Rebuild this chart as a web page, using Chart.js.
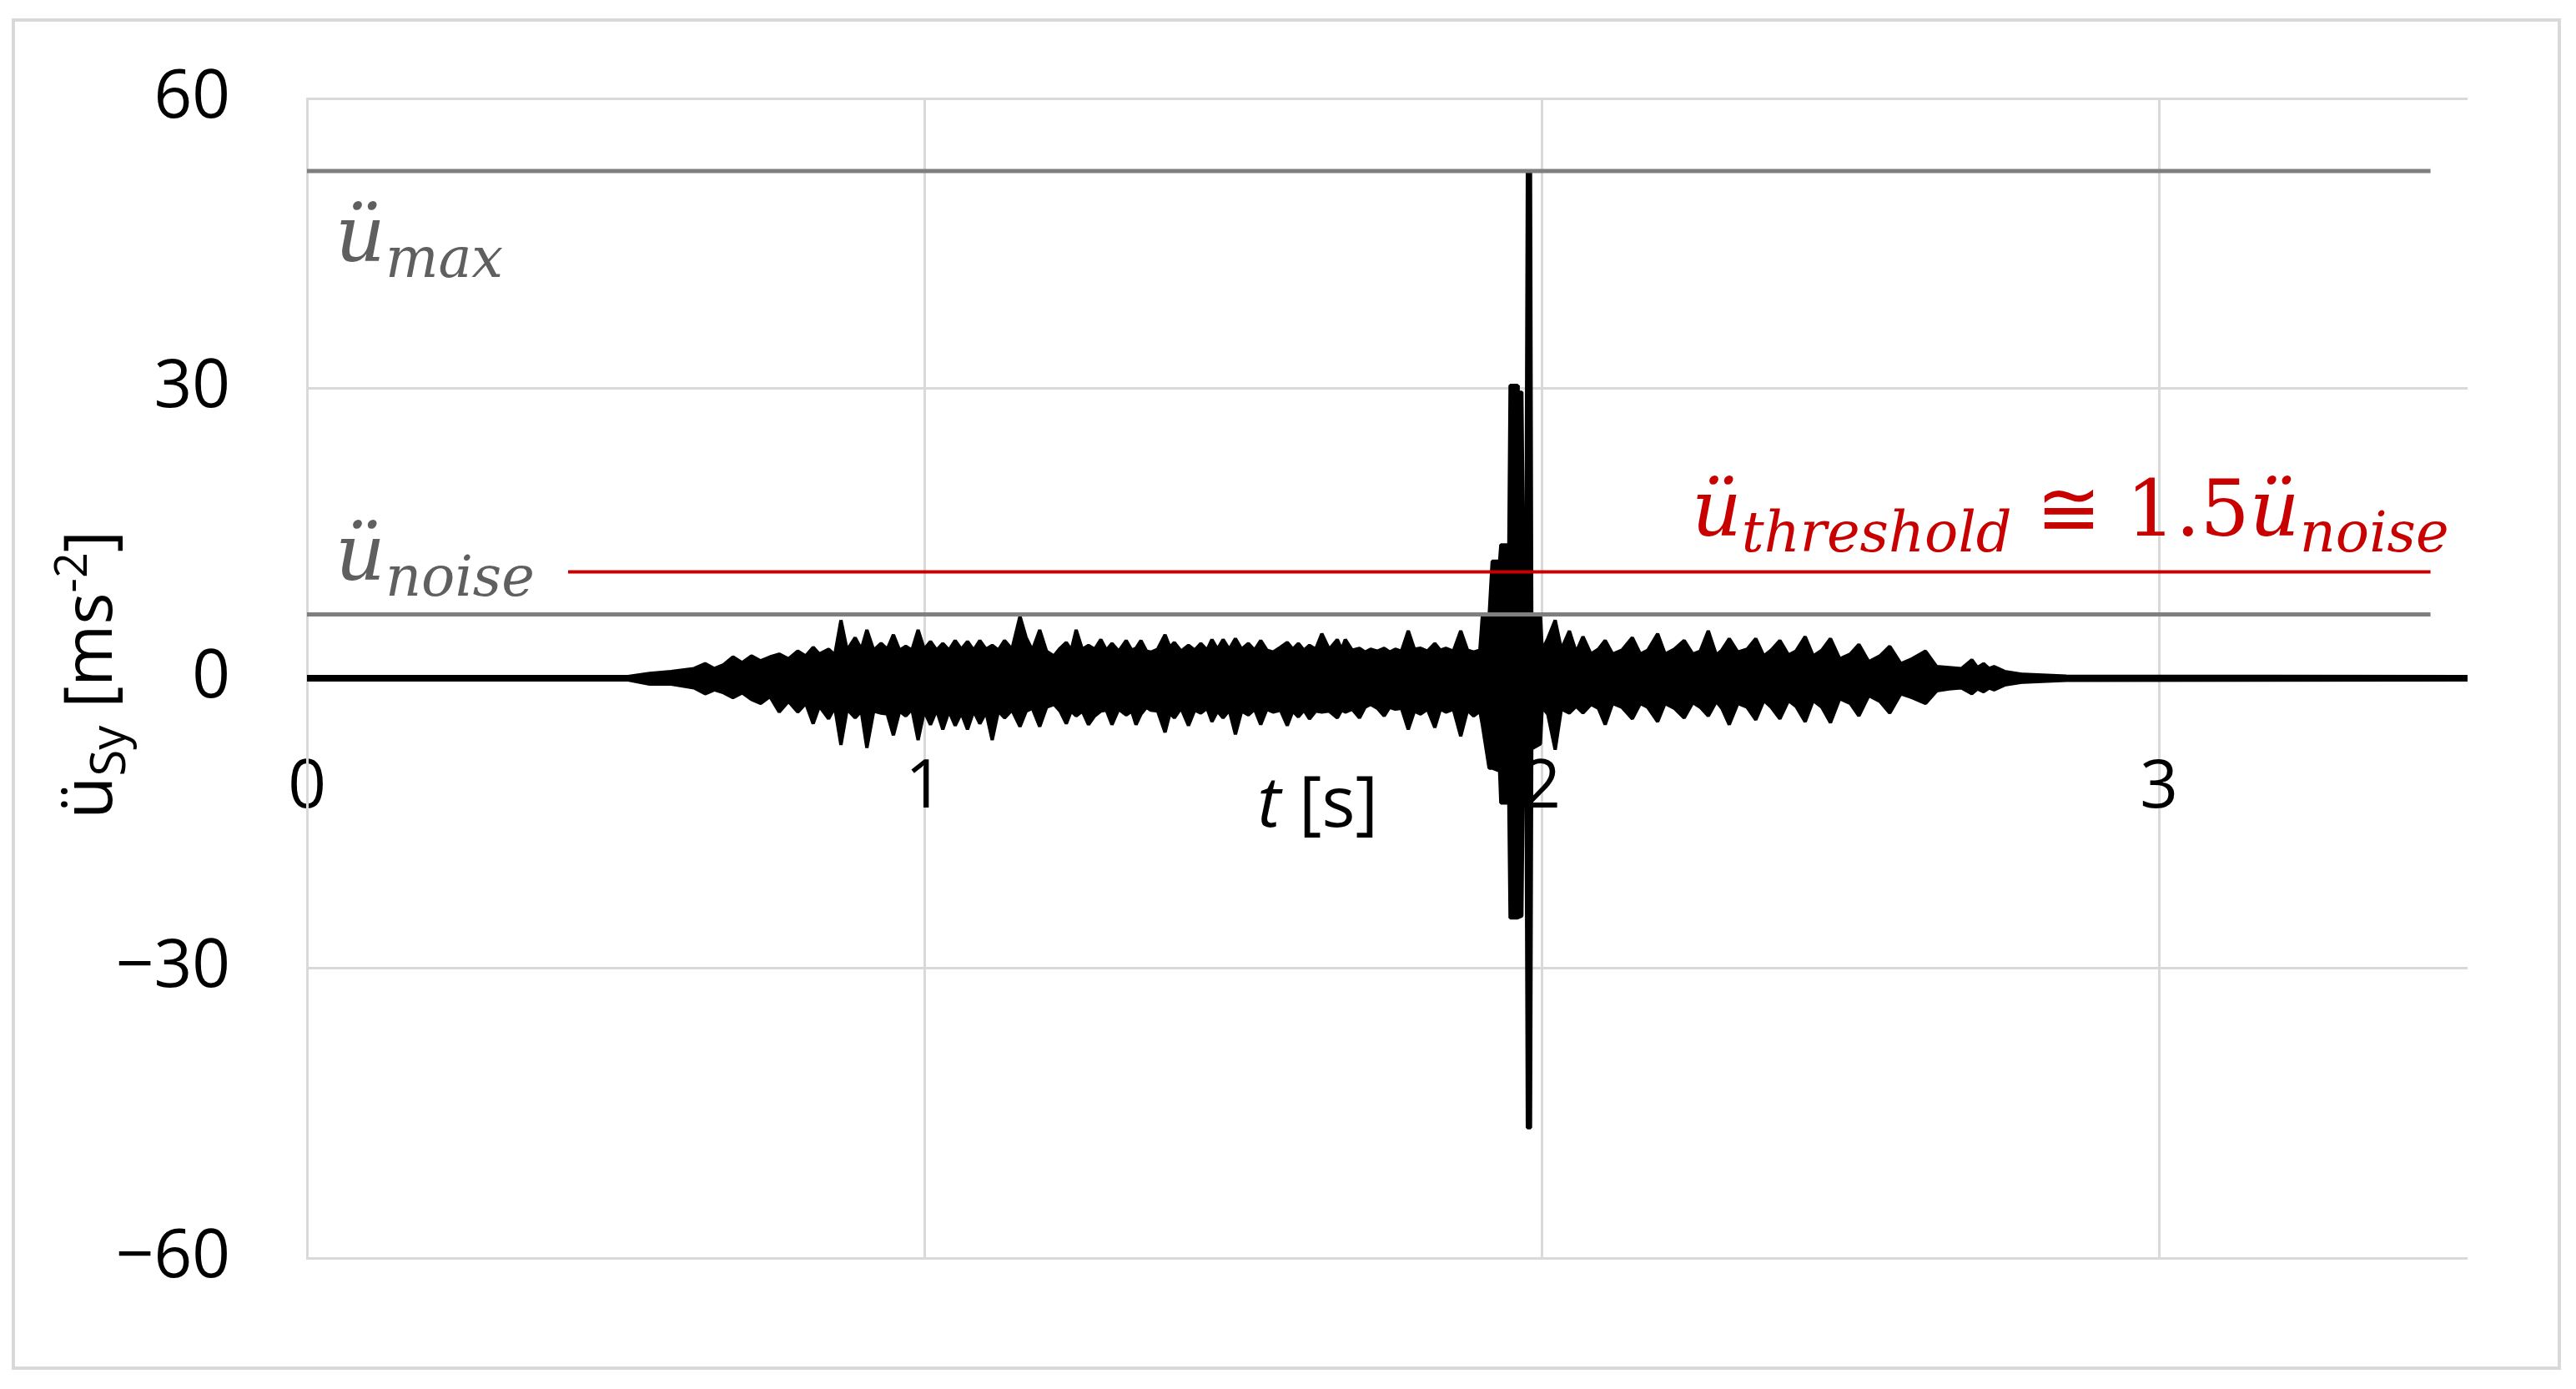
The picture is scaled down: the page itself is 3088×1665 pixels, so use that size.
<!DOCTYPE html>
<html>
<head>
<meta charset="utf-8">
<script src="https://cdn.jsdelivr.net/npm/chart.js@4.4.1/dist/chart.umd.min.js"></script>
<style>
  html, body { margin: 0; padding: 0; background: #fff; }
  canvas { display: block; }
</style>
</head>
<body>
<canvas id="accChart" width="3088" height="1665" style="width:3088px;height:1665px"></canvas>
<script>
// axis ticks
var xTicks = [0, 1, 2, 3];
var yTicks = [-60, -30, 0, 30, 60];

// reference levels (ms^-2) and where their lines start / stop (s)
var uMax = 52.5;
var uNoise = 6.6;
var uThreshold = 11.0;
var levelT = [0, 3.44];
var thresholdT = [0.423, 3.44];

var tSig = [
    0, 0.52, 0.555, 0.59, 0.627, 0.645, 0.66, 0.675, 0.69, 0.705,
    0.72, 0.735, 0.75, 0.765, 0.78, 0.795, 0.808, 0.82, 0.83, 0.845,
    0.855, 0.865, 0.875, 0.888, 0.898, 0.907, 0.918, 0.93, 0.94, 0.95,
    0.96, 0.97, 0.98, 0.99, 1.0, 1.01, 1.02, 1.03, 1.04, 1.05,
    1.06, 1.07, 1.08, 1.09, 1.1, 1.11, 1.12, 1.13, 1.142, 1.155,
    1.165, 1.175, 1.187, 1.198, 1.21, 1.22, 1.23, 1.238, 1.246, 1.256,
    1.266, 1.276, 1.286, 1.295, 1.304, 1.315, 1.327, 1.336, 1.343, 1.351,
    1.36, 1.367, 1.378, 1.39, 1.398, 1.405, 1.416, 1.428, 1.438, 1.448,
    1.458, 1.466, 1.475, 1.484, 1.494, 1.504, 1.514, 1.525, 1.535, 1.545,
    1.555, 1.565, 1.577, 1.588, 1.597, 1.606, 1.615, 1.624, 1.634, 1.644,
    1.656, 1.669, 1.676, 1.682, 1.693, 1.705, 1.714, 1.723, 1.734, 1.745,
    1.754, 1.763, 1.773, 1.784, 1.794, 1.804, 1.815, 1.827, 1.836, 1.845,
    1.857, 1.869, 1.88, 1.89, 1.9, 1.904, 1.915, 1.92, 1.932, 1.934,
    1.947, 1.949, 1.961, 1.962, 1.968, 1.97, 1.975, 1.977, 1.982, 1.984,
    1.998, 2.001, 2.01, 2.022, 2.032, 2.045, 2.056, 2.067, 2.08, 2.092,
    2.103, 2.115, 2.13, 2.147, 2.16, 2.172, 2.188, 2.2, 2.215, 2.231,
    2.245, 2.257, 2.27, 2.283, 2.292, 2.304, 2.318, 2.333, 2.347, 2.36,
    2.372, 2.386, 2.4, 2.412, 2.427, 2.44, 2.454, 2.468, 2.483, 2.5,
    2.514, 2.53, 2.548, 2.564, 2.582, 2.6, 2.622, 2.64, 2.66, 2.68,
    2.697, 2.706, 2.716, 2.725, 2.733, 2.75, 2.78, 2.85, 3.5
];
var upSig = [
    0.18, 0.18, 0.5, 0.7, 1.0, 1.5, 1.0, 1.4, 2.2, 1.6,
    2.3, 1.8, 2.2, 2.5, 2.0, 2.8, 2.3, 3.2, 2.5, 3.0,
    2.4, 6.0, 2.9, 4.2, 3.0, 5.0, 2.9, 3.6, 3.0, 4.5,
    2.9, 3.3, 2.9, 5.0, 3.0, 3.8, 2.9, 3.6, 2.9, 3.9,
    3.0, 3.8, 2.9, 3.9, 3.0, 3.4, 2.9, 3.9, 3.0, 6.4,
    4.2, 2.9, 5.0, 2.8, 2.3, 3.1, 3.7, 2.9, 5.0, 3.0,
    3.4, 3.0, 4.0, 2.9, 3.6, 2.8, 3.9, 2.9, 3.1, 3.9,
    2.8, 2.7, 3.0, 4.5, 3.2, 3.7, 2.8, 3.4, 2.9, 3.6,
    2.9, 4.0, 3.0, 4.0, 3.0, 4.1, 3.0, 3.6, 2.9, 3.9,
    2.9, 2.7, 3.2, 3.7, 3.0, 3.6, 2.9, 3.4, 3.0, 4.6,
    3.0, 4.0, 3.0, 4.0, 2.9, 3.1, 2.7, 3.0, 2.8, 3.1,
    2.7, 3.0, 2.8, 4.9, 3.0, 3.1, 2.8, 3.6, 2.9, 3.1,
    2.8, 4.9, 2.9, 2.7, 2.9, 6.4, 6.4, 12.1, 12.1, 13.8,
    13.8, 30.3, 30.3, 29.6, 29.6, 15.8, 15.8, 52.5, 52.5, 6.6,
    6.6, 2.9, 4.1, 6.0, 3.0, 4.9, 2.7, 4.3, 2.5, 3.0,
    3.9, 2.5, 2.9, 4.2, 2.5, 2.9, 4.6, 2.5, 3.0, 3.9,
    2.5, 2.8, 4.9, 2.4, 2.9, 4.1, 2.7, 3.0, 4.1, 2.3,
    2.9, 3.9, 2.4, 2.8, 4.3, 2.3, 2.9, 4.1, 2.0, 2.5,
    3.5, 1.7, 2.3, 3.3, 1.5, 2.0, 2.8, 1.2, 1.1, 1.0,
    1.9, 1.1, 1.5, 1.0, 1.2, 0.7, 0.4, 0.22, 0.18
];
var loSig = [
    -0.18, -0.18, -0.6, -0.6, -1.0, -1.6, -1.2, -1.5, -2.0, -1.5,
    -2.2, -2.6, -1.9, -3.5, -2.4, -3.5, -2.6, -4.7, -2.9, -4.2,
    -3.0, -6.9, -3.2, -4.1, -3.4, -7.2, -3.4, -3.6, -3.7, -5.9,
    -3.4, -3.9, -3.2, -6.4, -3.4, -4.8, -3.3, -5.3, -3.4, -4.9,
    -3.6, -5.3, -3.4, -4.7, -3.5, -6.4, -3.4, -4.1, -3.3, -5.0,
    -3.4, -3.1, -5.0, -3.0, -2.7, -3.4, -4.7, -3.4, -3.9, -3.4,
    -4.8, -3.9, -3.4, -3.3, -4.8, -3.2, -3.8, -3.4, -4.8, -3.7,
    -3.0, -3.3, -3.4, -5.6, -3.6, -4.1, -3.1, -4.9, -3.3, -3.6,
    -3.1, -4.5, -3.4, -4.1, -3.3, -5.8, -3.4, -3.8, -3.2, -4.8,
    -3.2, -3.5, -3.3, -4.9, -3.4, -4.0, -3.3, -4.2, -3.4, -3.5,
    -3.4, -4.1, -3.3, -3.5, -3.2, -4.1, -3.0, -2.7, -3.1, -3.9,
    -3.0, -3.2, -3.1, -5.3, -3.4, -3.7, -3.2, -5.1, -3.2, -3.5,
    -3.2, -6.0, -3.3, -3.9, -3.4, -4.8, -9.3, -9.3, -9.6, -12.9,
    -12.9, -24.8, -24.8, -24.8, -24.6, -11.2, -11.2, -46.5, -46.5, -7.3,
    -6.8, -3.0, -3.7, -7.4, -3.2, -3.6, -2.9, -3.6, -2.7, -3.1,
    -4.8, -2.6, -3.0, -4.2, -2.6, -3.0, -4.5, -2.6, -3.1, -4.1,
    -2.5, -3.0, -3.9, -2.4, -3.1, -4.8, -2.6, -3.0, -4.3, -2.3,
    -3.0, -4.2, -2.3, -2.9, -4.5, -2.3, -3.0, -4.6, -2.1, -2.6,
    -3.9, -1.8, -2.4, -3.6, -1.6, -2.0, -2.6, -1.3, -1.1, -1.0,
    -1.6, -1.1, -1.4, -1.0, -1.2, -0.7, -0.4, -0.22, -0.18
];

var GRID = '#d9d9d9';
var LEVEL_GREY = '#7f7f7f';
var TEXT_GREY = '#5f5f5f';
var RED = '#c80000';
var SANS = '"Open Sans", "Noto Sans", sans-serif';
var MATH = '"DejaVu Serif", serif';

function toPoints(ts, ys) {
    return ts.map(function (t, i) {
        return { x: t, y: Array.isArray(ys) ? ys[i] : ys };
    });
}

// draws a row of text pieces (used for sub and superscripts)
function drawRuns(ctx, x, y, runs, measureOnly) {
    var w = 0;
    runs.forEach(function (r) {
        ctx.font = r.font;
        if (!measureOnly) {
            ctx.fillStyle = r.color;
            ctx.fillText(r.text, x + w, y + (r.dy || 0));
        }
        w += ctx.measureText(r.text).width;
    });
    return w;
}

function mathRuns(color, parts) {
    return parts.map(function (p) {
        if (p[1] === 'sub') return { text: p[0], font: 'italic 67px ' + MATH, color: color, dy: 19 };
        if (p[1] === 'up') return { text: p[0], font: '93px ' + MATH, color: color };
        return { text: p[0], font: 'italic 93px ' + MATH, color: color };
    });
}

var framePlugin = {
    id: 'frame',
    beforeDraw: function (chart) {
        var ctx = chart.ctx;
        ctx.save();
        ctx.fillStyle = '#fff';
        ctx.fillRect(0, 0, chart.width, chart.height);
        ctx.strokeStyle = GRID;
        ctx.lineWidth = 4;
        ctx.strokeRect(16, 24, chart.width - 36, chart.height - 49);
        ctx.restore();
    }
};

var labelPlugin = {
    id: 'labels',
    afterDraw: function (chart) {
        var ctx = chart.ctx;
        var xs = chart.scales.x, ys = chart.scales.y;
        var area = chart.chartArea;
        ctx.save();
        ctx.textBaseline = 'alphabetic';
        ctx.textAlign = 'left';

        // level labels
        var x0 = area.left + 34;
        drawRuns(ctx, x0, ys.getPixelForValue(uMax) + 108, mathRuns(TEXT_GREY, [['\u00fc'], ['max', 'sub']]));
        drawRuns(ctx, x0, ys.getPixelForValue(uNoise) - 42, mathRuns(TEXT_GREY, [['\u00fc'], ['noise', 'sub']]));
        var thr = mathRuns(RED, [['\u00fc'], ['threshold', 'sub'], [' \u2245 1.5', 'up'], ['\u00fc'], ['noise', 'sub']]);
        var thrW = drawRuns(ctx, 0, 0, thr, true);
        drawRuns(ctx, xs.getPixelForValue(thresholdT[1]) + 22 - thrW, ys.getPixelForValue(uThreshold) - 44, thr);

        // x axis title, next to the tick labels
        var xt = [
            { text: 't', font: 'italic 84px ' + SANS, color: '#000' },
            { text: ' [s]', font: '84px ' + SANS, color: '#000' }
        ];
        drawRuns(ctx, xs.getPixelForValue(1.54), ys.getPixelForValue(0) + 178, xt);

        // y axis title, rotated
        var yt = [
            { text: '\u00fc', font: '84px ' + SANS, color: '#000' },
            { text: 'Sy', font: '58px ' + SANS, color: '#000', dy: 16 },
            { text: ' [ms', font: '80px ' + SANS, color: '#000' },
            { text: '-2', font: '54px ' + SANS, color: '#000', dy: -30 },
            { text: ']', font: '80px ' + SANS, color: '#000' }
        ];
        var w = drawRuns(ctx, 0, 0, yt, true);
        ctx.translate(134, (area.top + area.bottom) / 2 - 4);
        ctx.rotate(-Math.PI / 2);
        drawRuns(ctx, -w / 2, 0, yt);
        ctx.restore();
    }
};

new Chart(document.getElementById('accChart'), {
    type: 'line',
    data: {
        datasets: [
            { label: 'threshold', data: toPoints(thresholdT, uThreshold), borderColor: RED, borderWidth: 4 },
            { label: 'noise', data: toPoints(levelT, uNoise), borderColor: LEVEL_GREY, borderWidth: 5 },
            { label: 'max', data: toPoints(levelT, uMax), borderColor: LEVEL_GREY, borderWidth: 5 },
            { label: 'upper', data: toPoints(tSig, upSig), borderColor: '#000', backgroundColor: '#000', borderWidth: 4, borderJoinStyle: 'bevel', fill: '+1' },
            { label: 'lower', data: toPoints(tSig, loSig), borderColor: '#000', borderWidth: 4, borderJoinStyle: 'bevel', fill: false }
        ]
    },
    options: {
        responsive: false,
        devicePixelRatio: 1,
        animation: false,
        layout: { padding: { left: 0, top: 118, right: 130, bottom: 157 } },
        elements: { point: { radius: 0 }, line: { tension: 0 } },
        plugins: { legend: { display: false }, tooltip: { enabled: false } },
        scales: {
            x: {
                type: 'linear',
                position: { y: 0 },
                min: 0,
                max: 3.5,
                afterBuildTicks: function (s) { s.ticks = xTicks.map(function (v) { return { value: v }; }); },
                grid: { color: GRID, lineWidth: 3, drawTicks: false },
                border: { display: false },
                ticks: { color: '#000', font: { family: SANS, size: 80 }, padding: 84, maxRotation: 0 }
            },
            y: {
                min: -60,
                max: 60,
                afterBuildTicks: function (s) { s.ticks = yTicks.map(function (v) { return { value: v }; }); },
                afterFit: function (s) {
                    s.width = 368;
                    // the label padding is sideways only, so keep it out of the top/bottom room
                    s.paddingTop = 0;
                    s.paddingBottom = 0;
                },
                grid: { color: GRID, lineWidth: 3, drawTicks: false },
                border: { color: GRID, width: 3 },
                ticks: {
                    color: '#000',
                    font: { family: SANS, size: 80 },
                    padding: 92,
                    callback: function (v) { return v < 0 ? '\u2212' + Math.abs(v) : String(v); }
                }
            }
        }
    },
    plugins: [framePlugin, labelPlugin]
});
</script>
</body>
</html>
